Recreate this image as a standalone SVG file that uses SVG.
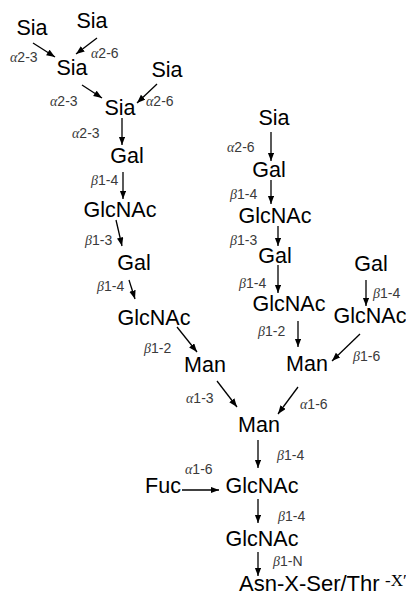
<svg xmlns="http://www.w3.org/2000/svg" width="406" height="595" viewBox="0 0 406 595">
  <style>
    .n { font-family: "Liberation Sans", Arial, sans-serif; font-size: 21.5px; fill: #000; text-anchor: middle; }
    .l { font-family: "Liberation Sans", Arial, sans-serif; font-size: 14px; fill: #3a3a3a; }
    .g { font-family: "Liberation Serif", "Times New Roman", serif; font-style: italic; }
    .e line { stroke: #000; stroke-width: 1.3; marker-end: url(#ah); }
  </style>
  <defs>
    <marker id="ah" markerUnits="userSpaceOnUse" markerWidth="9" markerHeight="7" refX="8.5" refY="3.25" orient="auto">
      <path d="M0,0 L8.5,3.25 L0,6.5 z" fill="#000"/>
    </marker>
  </defs>
  <rect width="406" height="595" fill="#fff"/>

  <!-- glycosidic bonds -->
  <g id="edges" class="e">
    <line x1="33" y1="43" x2="55" y2="57"/>
    <line x1="97" y1="38" x2="76" y2="54"/>
    <line x1="82" y1="85" x2="102" y2="98"/>
    <line x1="157" y1="84" x2="137" y2="103"/>
    <line x1="122" y1="118" x2="122" y2="145"/>
    <line x1="123" y1="172" x2="123" y2="199"/>
    <line x1="116" y1="220" x2="122" y2="246"/>
    <line x1="129" y1="280" x2="135" y2="299"/>
    <line x1="177" y1="327" x2="197" y2="352"/>
    <line x1="217" y1="381" x2="237" y2="407"/>
    <line x1="298" y1="387" x2="278" y2="414"/>
    <line x1="298" y1="321" x2="298" y2="347"/>
    <line x1="360" y1="334" x2="332" y2="361"/>
    <line x1="366" y1="280" x2="366" y2="306"/>
    <line x1="271" y1="132" x2="271" y2="161"/>
    <line x1="271" y1="180" x2="271" y2="204"/>
    <line x1="278" y1="226" x2="278" y2="246"/>
    <line x1="278" y1="265" x2="278" y2="293"/>
    <line x1="258" y1="440" x2="258" y2="468"/>
    <line x1="182" y1="490" x2="219" y2="490"/>
    <line x1="258" y1="499" x2="258" y2="523"/>
    <line x1="258" y1="552" x2="258" y2="576"/>
  </g>

  <!-- linkage labels -->
  <g id="linkages" class="l">
    <text x="10" y="62"><tspan class="g">α</tspan>2-3</text>
    <text x="91" y="58"><tspan class="g">α</tspan>2-6</text>
    <text x="50" y="106"><tspan class="g">α</tspan>2-3</text>
    <text x="146" y="106"><tspan class="g">α</tspan>2-6</text>
    <text x="72" y="138"><tspan class="g">α</tspan>2-3</text>
    <text x="91" y="185"><tspan class="g">β</tspan>1-4</text>
    <text x="85" y="245"><tspan class="g">β</tspan>1-3</text>
    <text x="97" y="291"><tspan class="g">β</tspan>1-4</text>
    <text x="144" y="353"><tspan class="g">β</tspan>1-2</text>
    <text x="186" y="403"><tspan class="g">α</tspan>1-3</text>
    <text x="300" y="409"><tspan class="g">α</tspan>1-6</text>
    <text x="227" y="152"><tspan class="g">α</tspan>2-6</text>
    <text x="230" y="199"><tspan class="g">β</tspan>1-4</text>
    <text x="230" y="245"><tspan class="g">β</tspan>1-3</text>
    <text x="239" y="288"><tspan class="g">β</tspan>1-4</text>
    <text x="258" y="336"><tspan class="g">β</tspan>1-2</text>
    <text x="373" y="298"><tspan class="g">β</tspan>1-4</text>
    <text x="353" y="361"><tspan class="g">β</tspan>1-6</text>
    <text x="277" y="460"><tspan class="g">β</tspan>1-4</text>
    <text x="185" y="474"><tspan class="g">α</tspan>1-6</text>
    <text x="278" y="521"><tspan class="g">β</tspan>1-4</text>
    <text x="273" y="566"><tspan class="g">β</tspan>1-N</text>
  </g>

  <!-- residues -->
  <g id="sia1"><text class="n" x="32" y="35">Sia</text></g>
  <g id="sia2"><text class="n" x="92" y="28">Sia</text></g>
  <g id="sia3"><text class="n" x="72" y="75">Sia</text></g>
  <g id="sia4"><text class="n" x="167" y="77">Sia</text></g>
  <g id="sia5"><text class="n" x="120" y="115">Sia</text></g>
  <g id="gal-a1"><text class="n" x="127" y="163">Gal</text></g>
  <g id="glcnac-a1"><text class="n" x="120" y="217">GlcNAc</text></g>
  <g id="gal-a2"><text class="n" x="134" y="270">Gal</text></g>
  <g id="glcnac-a2"><text class="n" x="154" y="325">GlcNAc</text></g>
  <g id="man-a"><text class="n" x="205" y="372">Man</text></g>
  <g id="man-core"><text class="n" x="259" y="432">Man</text></g>
  <g id="sia-b"><text class="n" x="274" y="125">Sia</text></g>
  <g id="gal-b1"><text class="n" x="269" y="177">Gal</text></g>
  <g id="glcnac-b1"><text class="n" x="275" y="223">GlcNAc</text></g>
  <g id="gal-b2"><text class="n" x="275" y="263">Gal</text></g>
  <g id="glcnac-b2"><text class="n" x="289" y="311">GlcNAc</text></g>
  <g id="man-b"><text class="n" x="307" y="371">Man</text></g>
  <g id="gal-c"><text class="n" x="371" y="271">Gal</text></g>
  <g id="glcnac-c"><text class="n" x="370" y="323">GlcNAc</text></g>
  <g id="fuc"><text class="n" x="163" y="493">Fuc</text></g>
  <g id="glcnac-core1"><text class="n" x="262" y="493">GlcNAc</text></g>
  <g id="glcnac-core2"><text class="n" x="262" y="546">GlcNAc</text></g>
  <g id="asn">
    <text class="n" x="239" y="591" style="text-anchor:start;font-size:22px">Asn-X-Ser/Thr</text>
    <text x="385" y="586" style="font-family:'Liberation Serif','Times New Roman',serif;font-size:17px">-X′</text>
  </g>
</svg>
